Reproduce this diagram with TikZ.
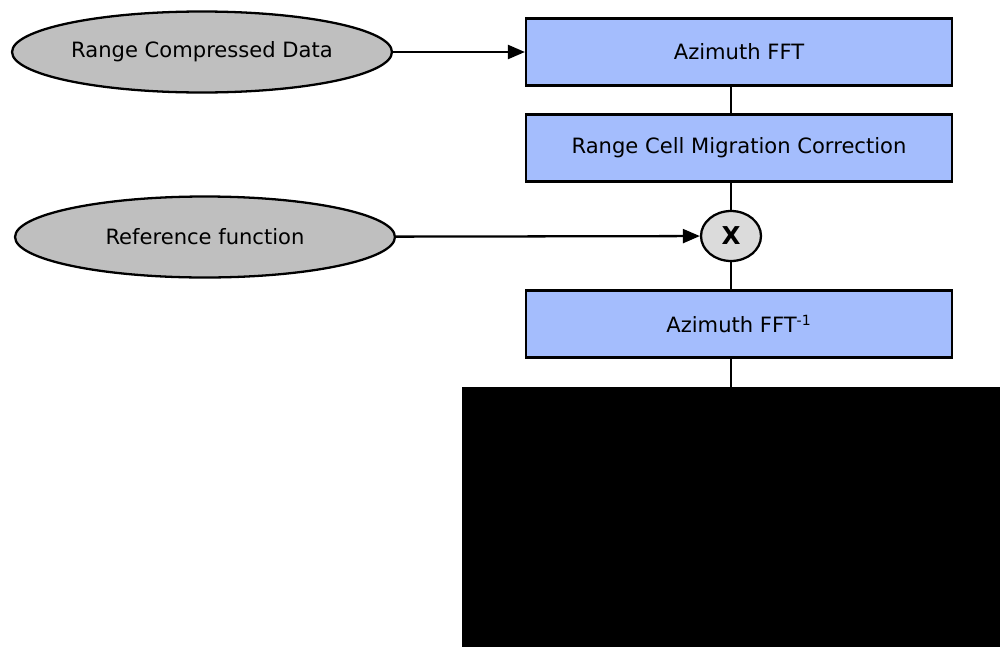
\documentclass[tikz,border=0pt]{standalone}
\usepackage{fontspec}
\setmainfont{DejaVu Sans}
\usepackage{tikz}
\usetikzlibrary{arrows.meta,shapes.geometric}

\begin{document}
\begin{tikzpicture}[
  x=0.02cm, y=-0.02cm,
  font=\fontsize{12}{14}\selectfont,
  srcnode/.style={draw, line width=1.3pt, ellipse, fill=black!25, minimum width=7.6cm, minimum height=1.62cm, inner sep=0pt},
  stagebox/.style={draw, line width=1.3pt, fill=stageblue, minimum width=8.52cm, minimum height=1.34cm, inner sep=0pt},
  mixer/.style={draw, line width=1.3pt, ellipse, fill=black!14, minimum width=1.2cm, minimum height=1.0cm, inner sep=0pt, font=\fontsize{14}{16}\selectfont\bfseries},
  flow/.style={-{Triangle[length=3.4mm, width=2.8mm]}, line width=1.3pt},
  link/.style={line width=1.3pt}
]
  \definecolor{stageblue}{RGB}{164,189,253}
  \useasboundingbox (0,0) rectangle (1000,646);

  % inputs (left)
  \node[srcnode] (rcdata) at (202,52) {Range Compressed Data};
  \node[srcnode] (reffun) at (205,237) {Reference function};

  % processing chain (right column)
  \node[stagebox] (azfft) at (739,52) {Azimuth FFT};
  \node[stagebox] (rcmc) at (739,148) {Range Cell Migration Correction};
  \node[mixer] (mult) at (731,236) {X};
  \node[stagebox] (azifft) at (739,324) {Azimuth FFT\textsuperscript{-1}};
  \node[draw=black, fill=black, minimum width=10.76cm, minimum height=5.18cm, inner sep=0pt] (outimg) at (731,516.5) {};

  \draw[flow] (rcdata) -- (azfft);
  \draw[flow] (reffun) -- (mult);
  \draw[link] (azfft.south -| mult) -- (rcmc.north -| mult);
  \draw[link] (rcmc.south -| mult) -- (mult);
  \draw[link] (mult) -- (azifft.north -| mult);
  \draw[link] (azifft.south -| mult) -- (outimg.north -| mult);
\end{tikzpicture}
\end{document}
